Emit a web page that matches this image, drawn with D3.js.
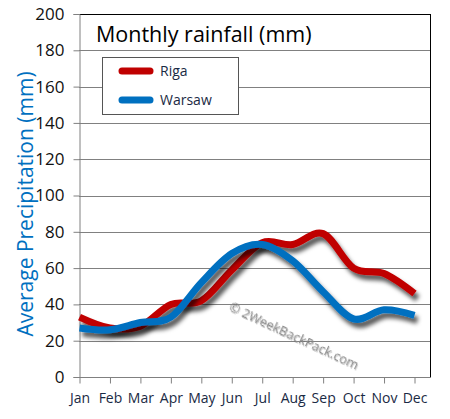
<!DOCTYPE html>
<html><head><meta charset="utf-8">
<script src="https://cdn.jsdelivr.net/npm/d3@7"></script>
<style>body{margin:0;background:#fff}svg{display:block}</style>
</head><body>
<script>
const months = ["Jan","Feb","Mar","Apr","May","Jun","Jul","Aug","Sep","Oct","Nov","Dec"];
const riga = [33, 27, 28, 40, 42, 59, 74, 73, 79, 60, 57, 46];
const warsaw = [27, 26, 30, 33, 52, 68, 73, 64, 47, 32, 37, 34];
const yTicks = [0,20,40,60,80,100,120,140,160,180,200];
const seriesNames = ["Riga","Warsaw"];
const seriesColors = ["#c00000","#0070c0"];

(function(){
const W=450,H=419;
const svg=d3.select("body").append("svg").attr("width",W).attr("height",H);
const defs=svg.append("defs");
const f=defs.append("filter").attr("id","sh").attr("x","-10%").attr("y","-30%").attr("width","130%").attr("height","170%");
f.append("feDropShadow").attr("dx",3).attr("dy",5).attr("stdDeviation",2).attr("flood-color","#000").attr("flood-opacity",0.65);
const f2=defs.append("filter").attr("id","wm");
f2.append("feDropShadow").attr("dx",1).attr("dy",1).attr("stdDeviation",0.6).attr("flood-color","#000").attr("flood-opacity",0.25);

const pl=79,pr=430,pt=14,pb=377;
const x=d3.scalePoint().domain(months).range([79.5,414.5]);
const y=d3.scaleLinear().domain([0,200]).range([pb,pt]);
const font="'Open Sans', sans-serif";

svg.append("g").selectAll("line").data(yTicks.filter(d=>d>0&&d<200)).join("line")
 .attr("x1",pl).attr("x2",pr).attr("y1",d=>Math.round(y(d))+0.5).attr("y2",d=>Math.round(y(d))+0.5)
 .attr("stroke","#808080").attr("stroke-width",1);
svg.append("line").attr("x1",pl).attr("x2",pr+0.5).attr("y1",pt+0.5).attr("y2",pt+0.5).attr("stroke","#000");
svg.append("line").attr("x1",pr+0.5).attr("x2",pr+0.5).attr("y1",pt).attr("y2",pb+0.5).attr("stroke","#000");

const ya=svg.append("g").attr("transform",`translate(${pl+0.5},0)`)
 .call(d3.axisLeft(y).tickValues(yTicks).tickSize(6).tickPadding(9));
ya.select(".domain").attr("stroke","#808080");
ya.selectAll(".tick line").attr("stroke","#808080");
ya.selectAll("text").attr("font-family",font).attr("font-size",17).attr("fill","#111");
const xa=svg.append("g").attr("transform",`translate(0,${pb+0.5})`)
 .call(d3.axisBottom(x).tickSize(6).tickPadding(10));
xa.select(".domain").attr("stroke","#808080").attr("d",`M${pl},0H${pr}`);
xa.selectAll(".tick line").attr("stroke","#808080");
xa.selectAll("text").attr("font-family",font).attr("font-size",14).attr("fill","#1a2a44");

svg.append("text").attr("transform","translate(33,204) rotate(-90)").attr("text-anchor","middle")
 .attr("font-family",font).attr("font-size",21).attr("fill","#0070c0").text("Average Precipitation (mm)");

svg.append("text").attr("x",96).attr("y",42).attr("font-family",font).attr("font-size",21.5).attr("fill","#000")
 .text("Monthly rainfall (mm)");

svg.append("text").attr("transform","translate(228,310) rotate(25)").attr("font-family",font).attr("font-size",13)
 .attr("fill","#8a8a8a").attr("filter","url(#wm)").text("© 2WeekBackPack.com");

const line=d3.line().x((d,i)=>x(months[i])).y(d=>y(d)).curve(d3.curveCardinal.tension(0));
const data=[riga,warsaw];
svg.append("g").selectAll("path").data(data).join("path")
 .attr("d",line).attr("fill","none").attr("stroke",(d,i)=>seriesColors[i]).attr("stroke-width",7)
 .attr("stroke-linejoin","round").attr("stroke-linecap","butt").attr("filter","url(#sh)");

svg.append("rect").attr("x",102.5).attr("y",57.5).attr("width",136).attr("height",57).attr("fill","#fff").attr("stroke","#555");
const lg=svg.append("g").selectAll("g").data(seriesNames).join("g").attr("transform",(d,i)=>`translate(0,${71+i*29})`);
lg.append("line").attr("x1",122).attr("x2",150).attr("stroke",(d,i)=>seriesColors[i]).attr("stroke-width",7).attr("stroke-linecap","round");
lg.append("text").attr("x",160).attr("y",5).attr("font-family",font).attr("font-size",14).attr("fill","#1a2a44").text(d=>d);
})();
</script>
</body></html>
